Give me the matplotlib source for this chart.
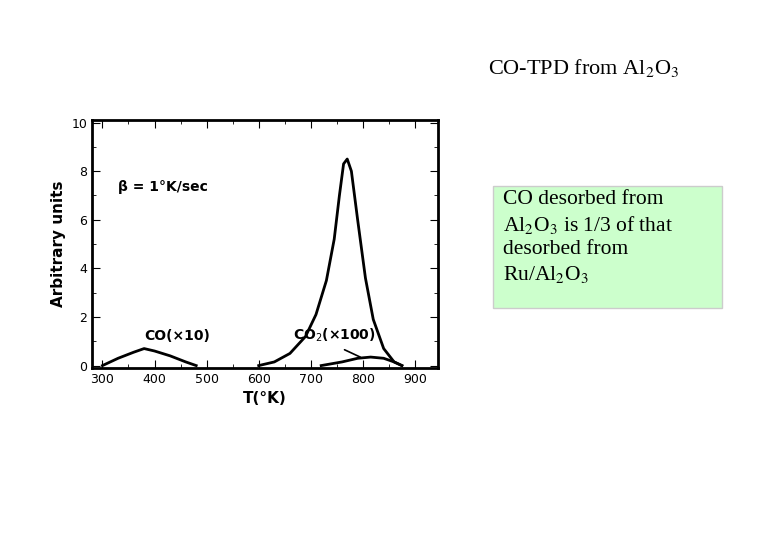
import matplotlib.pyplot as plt
from matplotlib.patches import Rectangle

# CO (x10) desorption curve
co_t = [300, 330, 360, 380, 400, 430, 460, 480]
co_y = [0.0, 0.3, 0.55, 0.7, 0.6, 0.4, 0.15, 0.0]

# CO2 (x100) main peak
co2_t = [600, 630, 660, 690, 710, 730, 745, 755, 763, 770, 778, 790, 805, 820, 840, 860, 875]
co2_y = [0.0, 0.15, 0.5, 1.2, 2.1, 3.5, 5.2, 7.0, 8.3, 8.5, 8.0, 6.0, 3.6, 1.9, 0.7, 0.15, 0.0]

# CO2 small bump
bump_t = [720, 760, 790, 815, 840, 860, 875]
bump_y = [0.0, 0.15, 0.3, 0.35, 0.3, 0.15, 0.0]

fig = plt.figure(figsize=(7.8, 5.4), dpi=100)
ax = fig.add_axes([0.118, 0.3185, 0.444, 0.459])

ax.plot(co_t, co_y, color="black", lw=2)
ax.plot(co2_t, co2_y, color="black", lw=2)
ax.plot(bump_t, bump_y, color="black", lw=2)

ax.set_xlim(280, 945)
ax.set_ylim(-0.1, 10.1)
ax.set_xticks([300, 400, 500, 600, 700, 800, 900])
ax.set_yticks([0, 2, 4, 6, 8, 10])
ax.set_xticks(range(300, 950, 50), minor=True)
ax.set_yticks(range(0, 11), minor=True)
ax.tick_params(which="both", direction="in", top=True, right=True, labelsize=9)
ax.tick_params(which="major", length=6)
ax.tick_params(which="minor", length=3)
for s in ax.spines.values():
    s.set_linewidth(2)
ax.set_xlabel("T(°K)", fontsize=11, fontweight="bold")
ax.set_ylabel("Arbitrary units", fontsize=11, fontweight="bold")

ax.text(330, 7.2, "β = 1°K/sec", fontsize=10, fontweight="bold")
ax.text(380, 1.05, "CO(×10)", fontsize=10, fontweight="bold")
ax.text(665, 1.05, "CO$_2$(×100)", fontsize=10, fontweight="bold")
ax.annotate("", xy=(800, 0.3), xytext=(760, 0.7),
            arrowprops=dict(arrowstyle="-", color="black", lw=1.2))

fig.text(0.626, 0.874, "CO-TPD from Al$_2$O$_3$", fontsize=16, family="Liberation Serif",
         math_fontfamily="stix", va="center")

fig.patches.append(Rectangle((0.632, 0.4296), 0.294, 0.226, transform=fig.transFigure,
                             fc="#ccffcc", ec="#cccccc", lw=1))
fig.text(0.645, 0.648, "CO desorbed from\nAl$_2$O$_3$ is 1/3 of that\ndesorbed from\nRu/Al$_2$O$_3$",
         fontsize=15.5, family="Liberation Serif", math_fontfamily="stix", va="top",
         linespacing=1.3)

fig.savefig("out.png", dpi=100)
